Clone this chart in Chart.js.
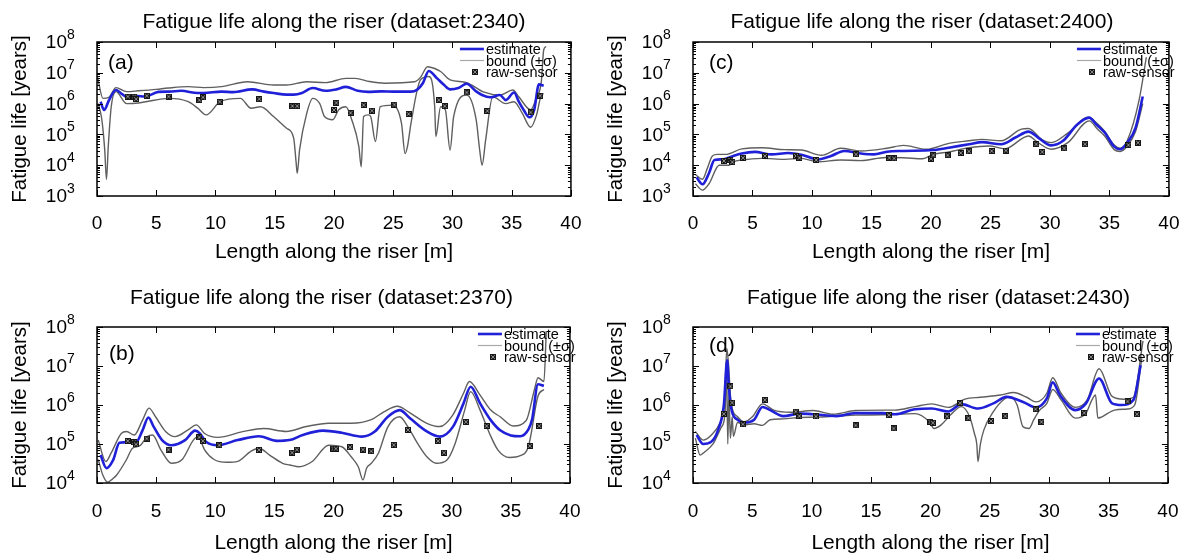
<!DOCTYPE html>
<html>
<head>
  <title>Fatigue life along the riser</title>
  <script src="https://cdn.jsdelivr.net/npm/chart.js"></script>
  <style>
    body { margin: 0; background: #fff; }
    #wrap { position: relative; width: 1196px; height: 556px; }
    canvas { position: absolute; }
  </style>
</head>
<body>
<div id="wrap">
  <canvas id="pa" width="598" height="270" style="left:0;top:0"></canvas>
  <canvas id="pc" width="600" height="270" style="left:596px;top:0"></canvas>
  <canvas id="pb" width="598" height="286" style="left:0;top:270px"></canvas>
  <canvas id="pd" width="600" height="286" style="left:596px;top:270px"></canvas>
</div>
<script>
// sensor positions along the riser [m], shared by all datasets
const sensorX = [2.6, 3.15, 3.3, 4.2, 6.05, 8.65, 8.95, 10.35, 13.7, 16.5, 16.9, 20.0, 20.2, 21.4, 22.5, 23.2, 25.1, 26.3, 28.85, 29.35, 31.2, 32.95, 36.6, 37.4];

const decadesWide = [1e3, 1e4, 1e5, 1e6, 1e7, 1e8];
const decadesNarrow = [1e4, 1e5, 1e6, 1e7, 1e8];

// dataset 2340
const estA = [[0.3,1.15e6],[0.6,6.2e5],[1.0,1.26e6],[1.6,2.75e6],[2.0,2.2e6],[2.5,1.66e6],[3.2,1.78e6],[4.1,1.7e6],[5.2,2.4e6],[6.1,2.45e6],[7.1,2.6e6],[8.5,2.2e6],[9.0,2.2e6],[10.5,2.45e6],[11.5,2.35e6],[13.1,2.9e6],[14.1,2.45e6],[14.9,2.2e6],[16.0,1.95e6],[16.6,1.95e6],[17.3,2.2e6],[18.2,3.2e6],[19.3,2.6e6],[20.2,2.9e6],[21.0,3.5e6],[22.0,2.6e6],[22.9,2.4e6],[24.0,2.5e6],[25.0,2.45e6],[26.5,2.45e6],[27.0,2.8e6],[27.5,4.6e6],[28.0,1.15e7],[28.7,6.6e6],[29.3,4.0e6],[29.8,2.9e6],[30.5,3.2e6],[31.2,4.4e6],[32.0,2.5e6],[32.5,1.9e6],[33.2,1.6e6],[34.0,1.9e6],[34.5,1.3e6],[35.2,2.3e6],[35.6,1.15e6],[36.0,6.3e5],[36.5,3.6e5],[36.9,6.3e5],[37.3,4.2e6],[37.7,3.8e6]];
const upA = [[0.05,7.1e6],[0.5,1.48e6],[1.0,1.6e6],[1.6,3.3e6],[2.5,2.45e6],[3.5,2.6e6],[5.0,2.9e6],[6.0,3.2e6],[7.7,3.55e6],[9.0,3.3e6],[10.5,3.55e6],[12.7,5.1e6],[14.9,4.0e6],[16.0,4.0e6],[17.7,5.1e6],[19.3,4.8e6],[21.0,6.6e6],[21.8,6.6e6],[23.0,5.2e6],[24.3,4.6e6],[26.8,5.1e6],[27.3,7.1e6],[27.9,1.58e7],[28.5,1.38e7],[29.0,1.1e7],[29.8,5.9e6],[31.2,4.8e6],[32.6,2.4e6],[34.0,1.9e6],[35.1,2.75e6],[35.6,1.66e6],[36.6,6.3e5],[37.1,1.6e6],[37.5,5.1e6],[37.7,5.5e7],[37.9,7.1e7]];
const loA = [[0.1,1.0e6],[0.4,3.2e5],[0.65,3.2e4],[0.8,3.5e3],[0.95,4.0e4],[1.2,7.9e5],[1.6,2.45e6],[2.5,1.0e6],[3.5,1.05e6],[4.1,1.15e6],[6.1,1.48e6],[7.7,1.15e6],[8.5,7.1e5],[9.2,4.3e5],[10.4,1.15e6],[12.1,1.48e6],[13.0,7.1e5],[13.8,7.9e5],[14.9,3.8e5],[16.0,1.58e5],[16.6,7.6e4],[16.8,1.3e4],[16.9,5.5e3],[17.1,3.2e4],[17.7,4.8e5],[18.2,1.48e6],[18.8,1.0e6],[19.2,3.8e5],[19.9,3.0e5],[20.4,6.3e5],[21.0,7.9e5],[21.5,3.0e5],[22.1,4.0e4],[22.3,8.9e3],[22.5,3.8e5],[22.9,4.3e5],[23.1,3.8e5],[23.5,5.9e4],[23.9,7.9e5],[24.9,8.9e5],[25.7,2.3e5],[26.0,2.4e4],[26.2,4.0e4],[26.5,2.3e5],[27.3,5.9e6],[28.0,7.6e6],[28.5,7.9e5],[28.6,8.5e4],[29.0,7.9e5],[29.4,6.3e5],[29.8,3.1e4],[30.1,3.8e5],[31.2,1.9e6],[32.0,3.0e5],[32.3,3.1e4],[32.5,1.0e4],[32.8,6.5e4],[33.4,1.66e6],[34.5,1.0e6],[35.2,1.15e6],[35.9,4.8e5],[36.6,1.7e5],[37.1,4.3e5],[37.5,1.9e6],[37.7,2.1e6]];
const sensA = [1.7e6,1.7e6,1.4e6,1.8e6,1.7e6,1.3e6,1.6e6,1.15e6,1.4e6,8.3e5,8.3e5,6.2e5,1.07e6,5.0e5,9.0e5,5.9e5,9.3e5,4.6e5,1.3e6,8.3e5,2.3e6,5.8e5,5.2e5,1.8e6];

// dataset 2370
const estB = [[0.3,5.2e4],[0.8,2.4e4],[1.35,3.8e4],[1.9,1.07e5],[2.7,1.12e5],[3.3,1.12e5],[3.85,2.24e5],[4.35,4.8e5],[4.8,2.75e5],[5.5,1.26e5],[6.3,9.3e4],[7.45,1.26e5],[8.3,2.2e5],[8.7,1.86e5],[9.25,1.12e5],[10.2,9.3e4],[11.9,1.26e5],[13.7,1.58e5],[15.2,1.2e5],[16.3,1.26e5],[17.4,1.7e5],[19.1,2.2e5],[20.7,1.95e5],[22.4,1.55e5],[23.5,2.1e5],[24.6,5.0e5],[25.6,7.4e5],[26.5,4.5e5],[27.9,2.1e5],[29.0,1.55e5],[30.1,2.75e5],[31.0,1.1e6],[31.6,2.95e6],[32.4,1.1e6],[33.3,4.1e5],[34.1,2.24e5],[35.0,1.66e5],[35.8,1.58e5],[36.5,2.4e5],[36.8,4.3e5],[37.3,3.4e6],[37.8,3.1e6]];
const upB = [[0.1,1.26e5],[0.75,3.55e4],[1.2,5.9e4],[2.05,1.86e5],[2.5,2.1e5],[3.15,1.7e5],[3.85,4.1e5],[4.4,8.3e5],[4.95,5.0e5],[5.8,2.1e5],[6.6,1.55e5],[7.7,2.3e5],[8.4,3.1e5],[9.1,1.86e5],[10.2,1.48e5],[12.4,2.1e5],[14.1,2.5e5],[16.0,2.1e5],[17.7,2.8e5],[19.6,3.4e5],[21.5,3.4e5],[23.2,4.2e5],[24.3,6.8e5],[25.4,9.3e5],[26.5,6.2e5],[27.9,3.4e5],[29.0,2.8e5],[30.1,5.6e5],[31.0,2.0e6],[31.5,4.0e6],[32.4,1.8e6],[33.3,7.4e5],[34.1,5.0e5],[35.2,2.9e5],[36.3,4.0e5],[37.0,2.5e6],[37.3,5.0e6],[37.8,4.0e6],[38.0,7.9e7]];
const loB = [[0.1,4.0e4],[0.5,1.58e4],[0.9,1.05e4],[1.3,1.26e4],[1.65,1.58e4],[2.5,4.0e4],[3.0,7.8e4],[3.6,8.9e4],[4.25,1.55e5],[4.7,1.7e5],[5.4,7.1e4],[6.3,3.2e4],[7.2,4.0e4],[8.15,1.26e5],[8.55,1.55e5],[9.1,7.1e4],[9.9,4.0e4],[11.0,3.4e4],[11.9,3.6e4],[13.0,6.5e4],[13.7,7.8e4],[14.6,5.2e4],[15.7,3.2e4],[16.3,2.9e4],[17.1,2.6e4],[18.2,3.55e4],[19.6,9.3e4],[20.7,8.5e4],[21.5,4.7e4],[22.1,2.6e4],[22.5,1.2e4],[22.8,2.4e4],[23.2,3.2e4],[23.8,5.8e4],[24.6,2.75e5],[25.6,5.0e5],[26.3,2.75e5],[27.1,1.05e5],[27.9,4.7e4],[28.7,3.2e4],[29.6,3.9e4],[30.3,1.05e5],[31.1,7.4e5],[31.6,2.2e6],[32.4,7.4e5],[33.2,1.86e5],[33.9,7.1e4],[34.9,4.5e4],[35.8,5.0e4],[36.5,8.9e4],[37.3,1.7e6],[37.8,2.5e6]];
const sensB = [1.2e5,1.12e5,9.8e4,1.38e5,7.2e4,1.48e5,1.2e5,9.3e4,7.1e4,6.0e4,7.2e4,7.6e4,7.6e4,8.3e4,7.2e4,6.5e4,9.5e4,2.3e5,1.2e5,6.0e4,3.7e5,2.9e5,8.9e4,2.9e5];

// dataset 2400
const estC = [[0.3,4.0e3],[0.8,2.4e3],[1.35,5.6e3],[1.8,1.48e4],[2.5,1.55e4],[3.15,1.86e4],[4.1,2.4e4],[5.2,2.7e4],[6.6,2.24e4],[8.0,2.5e4],[9.1,2.2e4],[10.5,1.55e4],[11.6,2.0e4],[12.7,2.9e4],[14.1,2.4e4],[15.2,2.24e4],[16.3,2.75e4],[17.7,2.9e4],[20.2,3.1e4],[21.5,3.7e4],[23.2,4.8e4],[24.3,5.6e4],[25.9,4.8e4],[27.1,7.9e4],[28.2,1.23e5],[29.0,7.9e4],[30.1,4.4e4],[31.1,6.2e4],[32.3,2.1e5],[33.3,3.5e5],[33.9,2.1e5],[34.6,1.15e5],[35.4,4.0e4],[35.9,3.3e4],[36.5,5.4e4],[37.2,1.66e5],[37.8,1.7e6]];
const upC = [[0.2,5.0e3],[0.8,3.5e3],[1.2,7.9e3],[1.63,2.0e4],[2.05,2.24e4],[2.73,2.24e4],[4.1,3.4e4],[5.8,3.7e4],[7.7,3.2e4],[9.1,3.1e4],[10.8,2.1e4],[12.4,3.55e4],[14.1,2.9e4],[16.3,3.55e4],[17.7,4.4e4],[19.6,3.3e4],[21.5,5.1e4],[23.2,6.2e4],[24.3,6.9e4],[25.9,6.2e4],[27.6,1.48e5],[28.2,1.55e5],[29.3,6.9e4],[30.1,5.4e4],[31.5,1.1e5],[33.2,3.6e5],[33.9,2.4e5],[34.6,1.26e5],[35.4,4.5e4],[35.9,3.55e4],[36.5,6.3e4],[37.5,1.35e6],[38.1,3.2e7]];
const loC = [[0.2,2.5e3],[0.8,1.55e3],[1.35,2.5e3],[2.2,1.0e4],[3.0,1.0e4],[3.4,1.29e4],[4.1,1.48e4],[5.8,1.66e4],[7.7,1.55e4],[9.1,1.66e4],[10.5,1.29e4],[12.4,1.48e4],[14.1,1.41e4],[16.2,1.78e4],[17.7,1.74e4],[19.3,1.62e4],[20.2,2.24e4],[21.5,2.7e4],[23.2,3.7e4],[24.9,4.2e4],[26.2,3.4e4],[28.2,8.9e4],[29.0,5.4e4],[30.1,3.3e4],[31.5,5.4e4],[33.3,2.75e5],[34.0,1.48e5],[34.6,8.9e4],[35.4,3.2e4],[35.9,2.8e4],[36.5,4.2e4],[37.2,1.26e5],[37.8,1.0e6]];
const sensC = [1.38e4,1.48e4,1.26e4,1.74e4,2.0e4,2.0e4,1.74e4,1.48e4,2.24e4,1.74e4,1.66e4,1.62e4,2.1e4,2.1e4,2.5e4,2.8e4,2.9e4,3.0e4,4.8e4,2.7e4,3.5e4,4.8e4,4.5e4,5.4e4];

// dataset 2430
const estD = [[0.3,1.7e5],[0.85,1.0e5],[1.55,1.15e5],[2.1,2.24e5],[2.6,1.0e6],[2.88,1.4e7],[3.0,3.55e6],[3.25,7.4e5],[3.75,4.2e5],[4.3,3.55e5],[5.15,4.2e5],[5.85,8.9e5],[6.5,7.4e5],[7.6,5.2e5],[9.0,6.0e5],[10.1,5.8e5],[12.1,5.2e5],[13.7,6.2e5],[16.0,6.2e5],[17.0,5.8e5],[18.7,7.8e5],[20.1,8.1e5],[21.5,6.8e5],[22.6,1.05e6],[24.0,8.1e5],[25.3,1.1e6],[26.4,1.62e6],[27.8,1.2e6],[28.9,8.7e5],[29.8,1.48e6],[30.3,3.8e6],[30.9,1.8e6],[32.2,7.4e5],[33.1,1.1e6],[34.2,4.8e6],[35.3,1.1e6],[36.1,1.0e6],[37.1,1.35e6],[37.7,1.05e7]];
const upD = [[0.2,2.1e5],[0.85,1.26e5],[1.55,1.7e5],[2.25,3.4e5],[2.65,1.1e6],[2.85,2.8e7],[3.0,1.0e7],[3.2,1.2e6],[3.75,5.0e5],[4.3,3.7e5],[5.0,5.0e5],[5.85,1.07e6],[6.8,7.4e5],[8.2,6.5e5],[10.1,7.2e5],[11.8,5.8e5],[13.7,7.2e5],[16.2,7.4e5],[17.0,7.4e5],[18.7,9.1e5],[20.1,1.07e6],[21.5,8.7e5],[22.9,1.41e6],[24.2,1.58e6],[25.9,1.8e6],[27.0,2.1e6],[28.1,1.58e6],[28.9,1.2e6],[29.8,2.0e6],[30.3,5.0e6],[31.0,2.0e6],[32.2,8.7e5],[33.2,1.35e6],[34.2,8.5e6],[35.3,1.66e6],[36.3,1.41e6],[37.1,1.58e6],[37.9,4.4e7]];
const loD = [[0.2,1.41e5],[0.6,5.2e4],[1.0,6.3e4],[1.7,1.02e5],[2.4,2.75e5],[2.7,6.3e5],[2.82,1.2e7],[2.93,1.0e5],[3.02,2.0e6],[3.15,1.41e5],[3.3,5.0e5],[3.4,1.58e5],[3.75,3.55e5],[4.3,3.1e5],[5.15,3.3e5],[5.85,3.0e5],[6.5,4.2e5],[7.6,4.4e5],[9.0,4.8e5],[10.4,4.9e5],[12.1,5.2e5],[13.7,5.5e5],[15.9,5.6e5],[18.7,6.0e5],[19.9,3.7e5],[20.3,2.5e5],[20.9,3.1e5],[21.7,5.6e5],[22.6,9.1e5],[23.3,5.0e5],[23.7,1.86e5],[23.9,1.0e5],[24.0,3.55e4],[24.2,9.8e4],[24.5,2.3e5],[25.3,6.8e5],[26.2,1.41e6],[26.7,1.62e6],[27.3,1.0e6],[27.8,2.75e5],[28.3,2.5e5],[28.7,4.2e5],[29.2,7.4e5],[29.8,1.1e6],[30.3,2.5e6],[31.0,1.35e6],[32.2,4.6e5],[33.1,6.2e5],[33.6,1.35e6],[33.9,1.8e6],[34.1,4.6e5],[34.4,4.9e5],[35.5,7.4e5],[36.6,7.9e5],[37.2,1.0e6],[37.8,1.58e7]];
const sensD = [5.9e5,3.0e6,1.15e6,3.2e5,1.35e6,6.8e5,5.2e5,5.1e5,3.0e5,5.5e5,2.5e5,3.7e5,3.5e5,5.1e5,1.12e6,4.6e5,3.9e5,5.2e5,7.8e5,3.7e5,null,6.3e5,1.23e6,5.8e5];

const FONT = '"Liberation Sans", Arial, sans-serif';
Chart.defaults.font.family = FONT;
Chart.defaults.color = '#000';

const blue = '#2020d8';
const grey = '#5f5f5f';

// raw-sensor glyph: small dark square with a cross
const mark = document.createElement('canvas');
mark.width = mark.height = 6;
(function () {
  const g = mark.getContext('2d');
  g.fillStyle = '#161616';
  g.fillRect(0, 0, 6, 6);
  g.strokeStyle = '#8c8c8c';
  g.lineWidth = 1;
  g.beginPath();
  g.moveTo(1, 1); g.lineTo(5, 5);
  g.moveTo(5, 1); g.lineTo(1, 5);
  g.stroke();
})();

// box, inward ticks, decade labels, key, panel tag and title
const frame = {
  id: 'frame',
  afterDraw(chart, args, o) {
    const { ctx, chartArea: a, scales: { x, y } } = chart;
    ctx.save();
    ctx.strokeStyle = '#000';
    ctx.lineWidth = 1;
    ctx.beginPath();
    x.ticks.forEach(t => {
      const px = Math.round(x.getPixelForValue(t.value)) + 0.5;
      ctx.moveTo(px, a.bottom); ctx.lineTo(px, a.bottom - 6);
      ctx.moveTo(px, a.top); ctx.lineTo(px, a.top + 6);
    });
    y.ticks.forEach(t => {
      for (let k = 1; k < 10; k++) {
        const v = t.value * k;
        if (v > y.max) break;
        const py = Math.round(y.getPixelForValue(v)) + 0.5;
        const len = k === 1 ? 6 : 3;
        ctx.moveTo(a.left, py); ctx.lineTo(a.left + len, py);
        ctx.moveTo(a.right, py); ctx.lineTo(a.right - len, py);
      }
    });
    ctx.stroke();
    ctx.lineWidth = 1.5;
    ctx.strokeRect(a.left, a.top, a.right - a.left, a.bottom - a.top);

    ctx.fillStyle = '#000';
    y.ticks.forEach(t => {
      const py = y.getPixelForValue(t.value);
      const e = String(Math.round(Math.log10(t.value)));
      ctx.textAlign = 'left';
      ctx.textBaseline = 'alphabetic';
      ctx.font = '14px ' + FONT;
      ctx.fillText(e, a.left - 30, py - 3.5);
      ctx.textAlign = 'right';
      ctx.textBaseline = 'middle';
      ctx.font = '19px ' + FONT;
      ctx.fillText('10', a.left - 30, py + 1);
    });

    // key
    const ds = chart.data.datasets;
    const lx = a.right + o.keyX;
    const rows = [a.top + 7, a.top + 18.5, a.top + 30];
    ctx.font = '14.5px ' + FONT;
    ctx.textAlign = 'left';
    ctx.textBaseline = 'middle';
    [0, 1, 3].forEach((i, r) => {
      const yy = rows[r];
      if (i === 3) {
        ctx.drawImage(mark, lx + 12, yy - 3);
      } else {
        ctx.strokeStyle = i === 0 ? blue : '#a8a8a8';
        ctx.lineWidth = i === 0 ? 2.6 : 1.2;
        ctx.beginPath();
        ctx.moveTo(lx, yy); ctx.lineTo(lx + 24, yy);
        ctx.stroke();
      }
      ctx.fillText(ds[i].label, lx + 26, yy + 1);
    });

    ctx.font = '21px ' + FONT;
    ctx.fillText(o.tag, a.left + o.tagX, a.top + o.tagY);

    ctx.font = '21px ' + FONT;
    ctx.textAlign = 'center';
    ctx.fillText(o.title, (a.left + a.right) / 2 + o.titleDx, o.titleY);
    ctx.restore();
  }
};

function panel(id, p) {
  const sensors = sensorX.map((sx, i) => [sx, p.sensors[i]]);
  new Chart(document.getElementById(id), {
    type: 'line',
    data: {
      datasets: [
        { label: 'estimate', data: p.est, borderColor: blue, borderWidth: 2.6, order: 1 },
        { label: 'bound (\u00b1\u03c3)', data: p.up, borderColor: grey, borderWidth: 1.4, order: 2 },
        { label: 'bound (\u00b1\u03c3)', data: p.lo, borderColor: grey, borderWidth: 1.4, order: 2 },
        { label: 'raw-sensor', data: sensors, showLine: false, pointStyle: mark, pointRadius: 3, order: 0 }
      ]
    },
    options: {
      responsive: false,
      animation: false,
      events: [],
      devicePixelRatio: 1,
      elements: {
        line: { cubicInterpolationMode: 'monotone', fill: false },
        point: { radius: 0 }
      },
      layout: { padding: { top: p.top, right: p.right, left: 0, bottom: 0 } },
      scales: {
        x: {
          type: 'linear', min: 0, max: 40,
          ticks: { stepSize: 5, padding: p.tickPad, font: { size: 19 } },
          grid: { display: false, drawTicks: false },
          border: { display: false },
          title: { display: true, text: 'Length along the riser [m]', font: { size: 21 }, padding: { top: 0, bottom: p.xTitlePad } },
          afterFit(s) { s.height = p.xh; }
        },
        y: {
          type: 'logarithmic', min: p.decades[0], max: p.decades[p.decades.length - 1],
          afterBuildTicks(s) { s.ticks = p.decades.map(v => ({ value: v })); },
          ticks: { display: false },
          grid: { display: false, drawTicks: false },
          border: { display: false },
          title: { display: true, text: 'Fatigue life [years]', font: { size: 20.5 }, padding: { top: 8, bottom: 0 } },
          afterFit(s) { s.width = 97; }
        }
      },
      plugins: {
        legend: { display: false },
        tooltip: { enabled: false },
        frame: p.frame
      }
    },
    plugins: [frame]
  });
}

panel('pa', {
  est: estA, up: upA, lo: loA, sensors: sensA, decades: decadesWide,
  top: 42, right: 19, xh: 74, tickPad: 16.5, xTitlePad: 5.5,
  frame: { title: 'Fatigue life along the riser (dataset:2340)', titleDx: 0, titleY: 22, tag: '(a)', tagX: 11, tagY: 21, keyX: -111 }
});
panel('pc', {
  est: estC, up: upC, lo: loC, sensors: sensC, decades: decadesWide,
  top: 42, right: 21, xh: 74, tickPad: 16.5, xTitlePad: 5.5,
  frame: { title: 'Fatigue life along the riser (dataset:2400)', titleDx: -9, titleY: 22, tag: '(c)', tagX: 16, tagY: 21, keyX: -92 }
});
panel('pb', {
  est: estB, up: upB, lo: loB, sensors: sensB, decades: decadesNarrow,
  top: 57, right: 19, xh: 73, tickPad: 17.5, xTitlePad: 0,
  frame: { title: 'Fatigue life along the riser (dataset:2370)', titleDx: -12, titleY: 28, tag: '(b)', tagX: 12, tagY: 27, keyX: -92 }
});
panel('pd', {
  est: estD, up: upD, lo: loD, sensors: sensD, decades: decadesNarrow,
  top: 57, right: 21, xh: 73, tickPad: 17.5, xTitlePad: 0,
  frame: { title: 'Fatigue life along the riser (dataset:2430)', titleDx: 8, titleY: 28, tag: '(d)', tagX: 16, tagY: 19, keyX: -92 }
});
</script>
</body>
</html>
